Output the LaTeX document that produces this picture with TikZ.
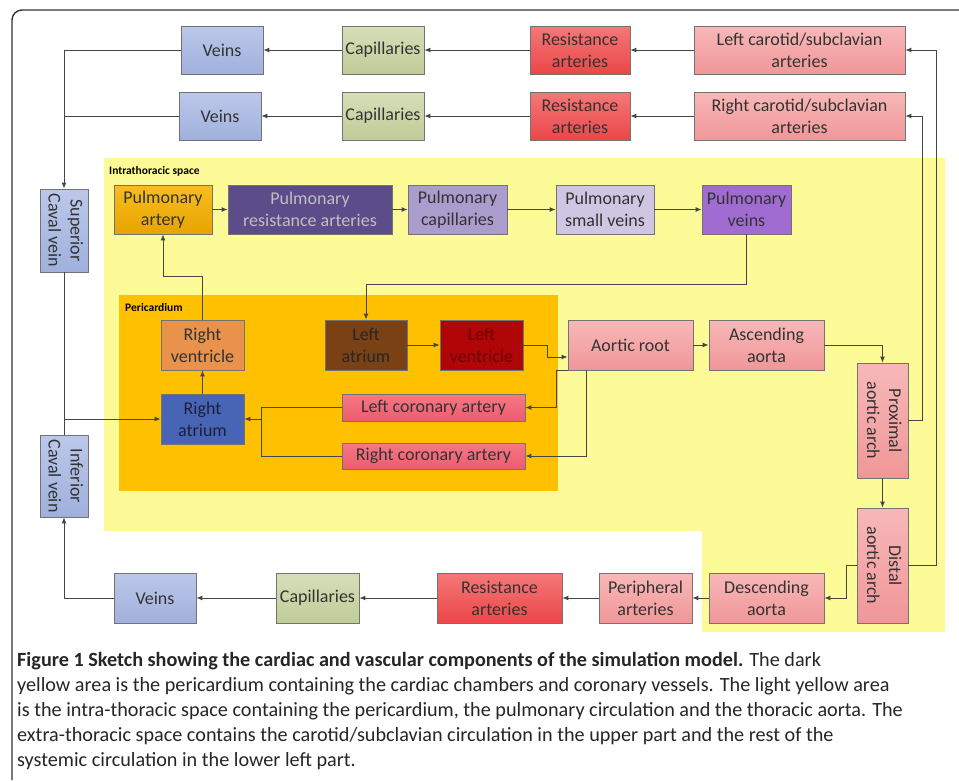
\documentclass[tikz,border=0pt]{standalone}
\usepackage{fontspec}
\setmainfont{Carlito}
\usepackage{tikz}
\usetikzlibrary{arrows.meta}
\newcommand{\boxfont}{\fontsize{18}{22}\selectfont}
\newcommand{\tagfont}{\fontsize{11.5}{13}\selectfont\bfseries}
\newcommand{\capfont}{\fontsize{20.2}{25}\selectfont}
\definecolor{thorax}{RGB}{253,250,152}
\definecolor{peri}{RGB}{255,192,0}
\definecolor{wire}{RGB}{70,70,70}
\tikzset{
  cell/.style={draw=black!55, line width=0.8pt, align=center, inner sep=1pt, font=\boxfont, text=black!80},
  vein/.style={cell, top color={rgb,255:red,188;green,200;blue,234}, bottom color={rgb,255:red,160;green,176;blue,220}},
  capil/.style={cell, top color={rgb,255:red,214;green,222;blue,184}, bottom color={rgb,255:red,192;green,204;blue,152}},
  resist/.style={cell, top color={rgb,255:red,244;green,120;blue,120}, bottom color={rgb,255:red,236;green,70;blue,72}},
  artery/.style={cell, top color={rgb,255:red,248;green,184;blue,184}, bottom color={rgb,255:red,240;green,150;blue,152}},
  coron/.style={cell, top color={rgb,255:red,246;green,120;blue,134}, bottom color={rgb,255:red,236;green,92;blue,108}},
  flow/.style={draw=wire, line width=0.9pt, -{Latex[length=6pt,width=5pt]}},
  link/.style={draw=wire, line width=0.9pt}
}
\begin{document}
\begin{tikzpicture}[x=1pt, y=-1pt]
\newcommand{\rowh}{48}
\useasboundingbox (0,0) rectangle (959,780);
\fill[white] (0,0) rectangle (959,780);
\draw[line width=1.4pt, black!80, rounded corners=10pt] (12,780) -- (12,10) -- (959,10);
%% spaces
\fill[thorax] (104,158) -- (945,158) -- (945,632) -- (702,632) -- (702,531) -- (104,531) -- cycle;
\fill[peri] (119,295) rectangle (558,491);
\node[anchor=west, font=\tagfont, inner sep=0pt] (lblthorax) at (109,171) {Intrathoracic space};
\node[anchor=west, font=\tagfont, inner sep=0pt] (lblperi) at (125,308) {Pericardium};
%% carotid / subclavian rows
\node[vein, minimum width=82pt, minimum height=\rowh pt] (veinsa) at (222,50) {Veins};
\node[capil, minimum width=82pt, minimum height=\rowh pt] (capa) at (383,50) {Capillaries};
\node[resist, minimum width=100pt, minimum height=\rowh pt] (resa) at (580,50) {Resistance\\arteries};
\node[artery, minimum width=211pt, minimum height=\rowh pt] (lcar) at (799.5,50) {Left carotid/subclavian\\arteries};
\node[vein, minimum width=82pt, minimum height=\rowh pt] (veinsb) at (220,116) {Veins};
\node[capil, minimum width=82pt, minimum height=\rowh pt] (capb) at (383,116) {Capillaries};
\node[resist, minimum width=100pt, minimum height=\rowh pt] (resb) at (580,116) {Resistance\\arteries};
\node[artery, minimum width=211pt, minimum height=\rowh pt] (rcar) at (799.5,116) {Right carotid/subclavian\\arteries};
%% caval veins
\node[vein, minimum width=48pt, minimum height=83pt] (scv) at (64,230.5)
  {\rotatebox{-90}{\begin{tabular}{@{}c@{}}Superior\\Caval vein\end{tabular}}};
\node[vein, minimum width=48pt, minimum height=82pt] (icv) at (64,476)
  {\rotatebox{-90}{\begin{tabular}{@{}c@{}}Inferior\\Caval vein\end{tabular}}};
%% pulmonary circulation
\node[cell, top color={rgb,255:red,246;green,190;blue,30}, bottom color={rgb,255:red,232;green,164;blue,0},
  minimum width=98pt, minimum height=49pt] (part) at (163,209.5) {Pulmonary\\artery};
\node[cell, fill={rgb,255:red,92;green,76;blue,138}, text=black!25,
  minimum width=164pt, minimum height=49pt] (pres) at (310,209.5) {Pulmonary\\resistance arteries};
\node[cell, fill={rgb,255:red,170;green,156;blue,204},
  minimum width=99pt, minimum height=49pt] (pcap) at (457.5,209.5) {Pulmonary\\capillaries};
\node[cell, fill={rgb,255:red,206;green,198;blue,226},
  minimum width=98pt, minimum height=49pt] (psv) at (605,209.5) {Pulmonary\\small veins};
\node[cell, fill={rgb,255:red,160;green,108;blue,210},
  minimum width=89pt, minimum height=49pt] (pvn) at (746.5,209.5) {Pulmonary\\veins};
%% heart
\node[cell, fill={rgb,255:red,232;green,146;blue,76}, minimum width=83pt, minimum height=50pt] (rv) at (202.5,345) {Right\\ventricle};
\node[cell, fill={rgb,255:red,72;green,100;blue,180}, text={rgb,255:red,30;green,30;blue,60},
  minimum width=83pt, minimum height=50pt] (ra) at (202.5,419) {Right\\atrium};
\node[cell, fill={rgb,255:red,122;green,66;blue,20}, text=black!85, minimum width=82pt, minimum height=50pt] (la) at (366,345) {Left\\atrium};
\node[cell, fill={rgb,255:red,176;green,6;blue,8}, text={rgb,255:red,110;green,0;blue,0},
  minimum width=83pt, minimum height=50pt] (lv) at (481.5,345) {Left\\ventricle};
\node[coron, minimum width=183pt, minimum height=27pt] (lca) at (433.5,407.5) {Left coronary artery};
\node[coron, minimum width=183pt, minimum height=26pt] (rca) at (433.5,456) {Right coronary artery};
%% aorta
\node[artery, minimum width=125pt, minimum height=50pt] (ar) at (630.5,345) {Aortic root};
\node[artery, minimum width=115pt, minimum height=50pt] (asa) at (766.5,345) {Ascending\\aorta};
\node[artery, minimum width=51pt, minimum height=115pt] (prox) at (882.5,420.5)
  {\rotatebox{-90}{\begin{tabular}{@{}c@{}}Proximal\\aortic arch\end{tabular}}};
\node[artery, minimum width=51pt, minimum height=115pt] (dist) at (882.5,565.5)
  {\rotatebox{-90}{\begin{tabular}{@{}c@{}}Distal\\aortic arch\end{tabular}}};
\node[artery, minimum width=115pt, minimum height=50pt] (desa) at (766.5,598) {Descending\\aorta};
%% lower systemic circulation
\node[artery, minimum width=93pt, minimum height=50pt] (per) at (645.5,598) {Peripheral\\arteries};
\node[resist, minimum width=125pt, minimum height=50pt] (resc) at (499.5,598) {Resistance\\arteries};
\node[capil, minimum width=83pt, minimum height=50pt] (capc) at (317.5,598) {Capillaries};
\node[vein, minimum width=82pt, minimum height=50pt] (veinsc) at (155,598) {Veins};
%% connectors
\draw[flow] (lcar) -- (resa);
\draw[flow] (resa) -- (capa);
\draw[flow] (capa) -- (veinsa);
\draw[flow] (veinsa.west) -| (scv.north);
\draw[flow] (rcar) -- (resb);
\draw[flow] (resb) -- (capb);
\draw[flow] (capb) -- (veinsb);
\draw[link] (veinsb.west) -- (veinsb.west -| scv.north);
\draw[flow] (scv.south) |- (ra.west);
\draw[link] (icv.north) -- (icv.north |- ra.west);
\draw[flow] (ra) -- (rv);
\coordinate (rvbend) at (202.5,276);
\draw[flow] (rv.north) -- (rvbend) -| (part.south);
\draw[flow] (part) -- (pres);
\draw[flow] (pres) -- (pcap);
\draw[flow] (pcap) -- (psv);
\draw[flow] (psv) -- (pvn);
\draw[flow] (pvn.south) -- ++(0,50) -| (la.north);
\draw[flow] (la) -- (lv);
\draw[flow] (lv.east) -- ++(24,0) |- ([yshift=-12pt]ar.west);
\draw[flow] (ar.south west) -- ++(-11,0) |- (lca.east);
\draw[flow] ([xshift=19pt]ar.south west) |- (rca.east);
\coordinate (cj) at (261,419);
\draw[link] (lca.west) -| (cj);
\draw[link] (rca.west) -| (cj);
\draw[flow] (cj) -- (ra.east);
\draw[flow] (ar) -- (asa);
\draw[flow] (asa.east) -| (prox.north);
\draw[flow] (prox) -- (dist);
\draw[flow] (prox.east) -- ++(14,0) |- (rcar.east);
\draw[flow] (dist.east) -- ++(28,0) |- (lcar.east);
\draw[flow] (dist.west) -- ++(-10,0) |- (desa.east);
\draw[flow] (desa) -- (per);
\draw[flow] (per) -- (resc);
\draw[flow] (resc) -- (capc);
\draw[flow] (capc) -- (veinsc);
\draw[flow] (veinsc.west) -| (icv.south);
%% caption
\node[anchor=north west, align=left, inner sep=0pt, font=\capfont, text=black!85] (caption) at (17,652)
{\textbf{Figure 1 Sketch showing the cardiac and vascular components of the simulation model.} The dark\\
yellow area is the pericardium containing the cardiac chambers and coronary vessels. The light yellow area\\
is the intra-thoracic space containing the pericardium, the pulmonary circulation and the thoracic aorta. The\\
extra-thoracic space contains the carotid/subclavian circulation in the upper part and the rest of the\\
systemic circulation in the lower left part.};
\end{tikzpicture}
\end{document}
